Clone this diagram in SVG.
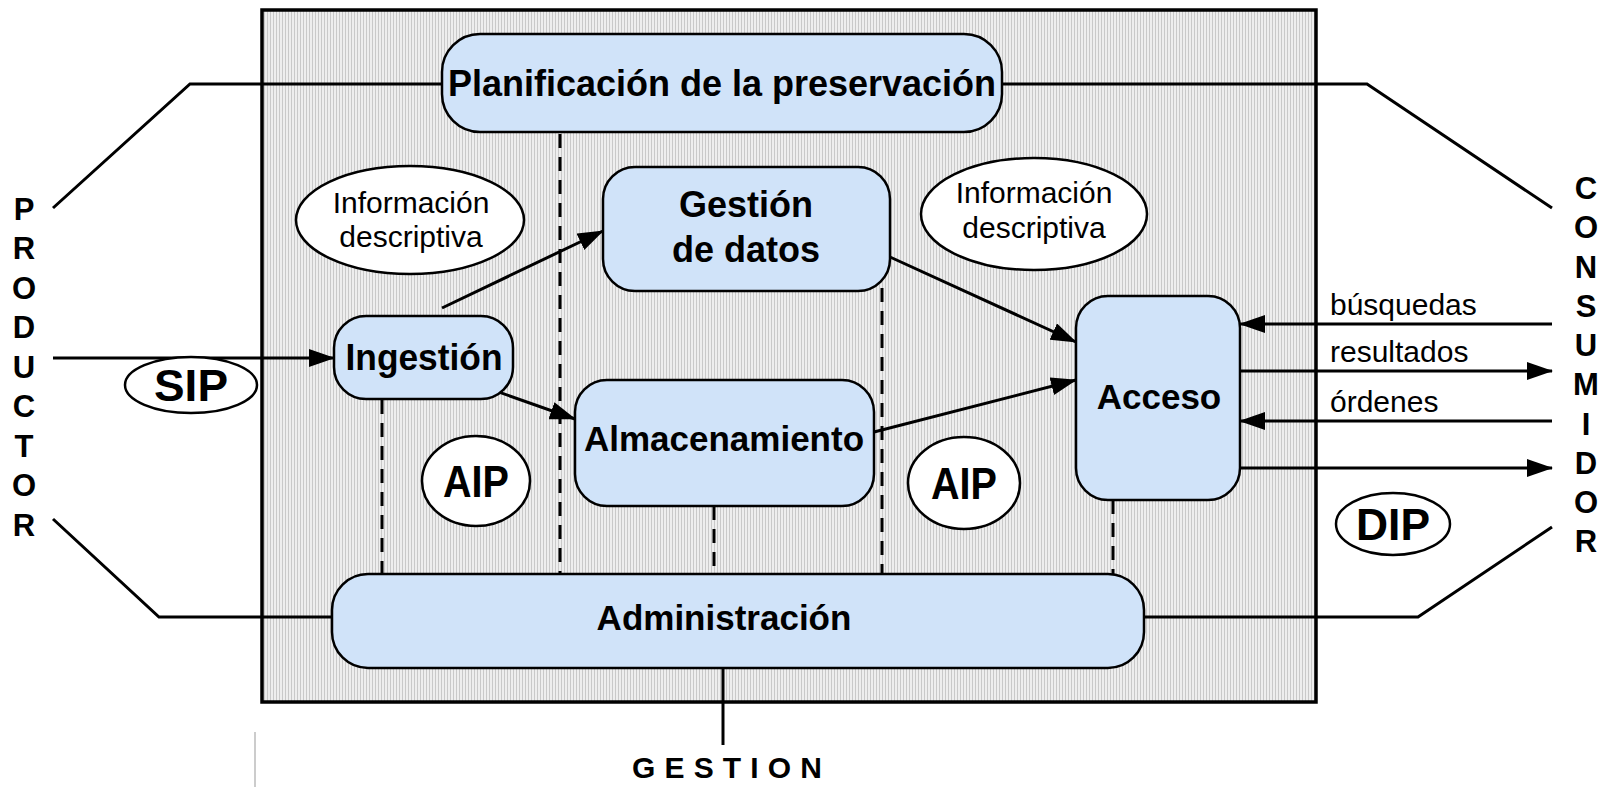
<svg xmlns="http://www.w3.org/2000/svg" width="1612" height="787" viewBox="0 0 1612 787">
<style>
.box{fill:#d0e3f9;stroke:#000;stroke-width:2.5}
.ell{fill:#fff;stroke:#000;stroke-width:2.5}
.t{font-family:"Liberation Sans",Arial,sans-serif;fill:#000;text-anchor:middle}
.b{font-weight:bold}
.ln{fill:none;stroke:#000;stroke-width:3}
.ar{fill:none;stroke:#000;stroke-width:3;marker-end:url(#ah)}
.da{fill:none;stroke:#000;stroke-width:3;stroke-dasharray:14 9}
.lbl{font-family:"Liberation Sans",Arial,sans-serif;font-size:30px;fill:#000}
</style>
<defs>
<pattern id="hatch" width="3" height="10" patternUnits="userSpaceOnUse">
<rect width="3" height="10" fill="#eeeeee"/>
<rect width="1" height="10" fill="#c9c9c9"/>
</pattern>
<marker id="ah" viewBox="0 0 26 18" refX="25" refY="9" markerWidth="26" markerHeight="18" markerUnits="userSpaceOnUse" orient="auto">
<path d="M0,0 L26,9 L0,18 Z" fill="#000"/>
</marker>
</defs>
<rect width="1612" height="787" fill="#fff"/>
<g id="system">
<rect x="262" y="10" width="1054" height="692" fill="url(#hatch)" stroke="#000" stroke-width="3.5"/>
</g>
<line x1="255" y1="732" x2="255" y2="787" stroke="#999" stroke-width="1"/>
<g id="connectors">
<polyline class="ln" points="53,208 190,84 442,84"/>
<polyline class="ln" points="1002,84 1367,84 1552,208"/>
<polyline class="ln" points="53,519 159,617 332,617"/>
<polyline class="ln" points="1144,617 1418,617 1552,527"/>
<line class="ln" x1="723" y1="668" x2="723" y2="745"/>
<line class="da" x1="382" y1="400" x2="382" y2="574"/>
<line class="da" x1="560" y1="134" x2="560" y2="574"/>
<line class="da" x1="714" y1="506" x2="714" y2="574"/>
<line class="da" x1="882" y1="288" x2="882" y2="574"/>
<line class="da" x1="1113" y1="500" x2="1113" y2="574"/>
<line class="ar" x1="53" y1="358" x2="334" y2="358"/>
<line class="ar" x1="442" y1="308" x2="603" y2="231"/>
<line class="ar" x1="442" y1="372" x2="575" y2="419"/>
<line class="ar" x1="890" y1="257" x2="1076" y2="342"/>
<line class="ar" x1="874" y1="432" x2="1076" y2="380"/>
<line class="ar" x1="1552" y1="324" x2="1240" y2="324"/>
<line class="ar" x1="1240" y1="371" x2="1552" y2="371"/>
<line class="ar" x1="1552" y1="421" x2="1240" y2="421"/>
<line class="ar" x1="1240" y1="468" x2="1552" y2="468"/>
<text class="lbl" x="1330" y="315">búsquedas</text>
<text class="lbl" x="1330" y="362">resultados</text>
<text class="lbl" x="1330" y="412">órdenes</text>
</g>
<g id="planificacion">
<rect class="box" x="442" y="34" width="560" height="98" rx="38"/>
<text class="t b" x="722" y="96" font-size="36">Planificación de la preservación</text>
</g>
<g id="gestion-datos">
<rect class="box" x="603" y="167" width="287" height="124" rx="32"/>
<text class="t b" x="746" y="217" font-size="36">Gestión</text>
<text class="t b" x="746" y="262" font-size="36">de datos</text>
</g>
<g id="ingestion">
<rect class="box" x="334" y="316" width="179" height="83" rx="32"/>
<text class="t b" x="424" y="370" font-size="36" textLength="157" lengthAdjust="spacingAndGlyphs">Ingestión</text>
</g>
<g id="almacenamiento">
<rect class="box" x="575" y="380" width="299" height="126" rx="32"/>
<text class="t b" x="724" y="451" font-size="35">Almacenamiento</text>
</g>
<g id="acceso">
<rect class="box" x="1076" y="296" width="164" height="204" rx="32"/>
<text class="t b" x="1159" y="409" font-size="35">Acceso</text>
</g>
<g id="administracion">
<rect class="box" x="332" y="574" width="812" height="94" rx="36"/>
<text class="t b" x="724" y="630" font-size="35">Administración</text>
</g>
<g id="info-left">
<ellipse class="ell" cx="410" cy="220" rx="114" ry="54"/>
<text class="t" x="411" y="213" font-size="30">Información</text>
<text class="t" x="411" y="247" font-size="30">descriptiva</text>
</g>
<g id="info-right">
<ellipse class="ell" cx="1034" cy="214" rx="113" ry="56"/>
<text class="t" x="1034" y="203" font-size="30">Información</text>
<text class="t" x="1034" y="238" font-size="30">descriptiva</text>
</g>
<g id="sip">
<ellipse class="ell" cx="191" cy="385" rx="66" ry="28"/>
<text class="t b" x="191" y="401" font-size="44" textLength="74" lengthAdjust="spacingAndGlyphs">SIP</text>
</g>
<g id="aip-left">
<ellipse class="ell" cx="476" cy="481" rx="54" ry="45"/>
<text class="t b" x="476" y="497" font-size="44" textLength="66" lengthAdjust="spacingAndGlyphs">AIP</text>
</g>
<g id="aip-right">
<ellipse class="ell" cx="964" cy="483" rx="56" ry="46"/>
<text class="t b" x="964" y="499" font-size="44" textLength="66" lengthAdjust="spacingAndGlyphs">AIP</text>
</g>
<g id="dip">
<ellipse class="ell" cx="1393" cy="524" rx="57" ry="31"/>
<text class="t b" x="1393" y="540" font-size="44" textLength="74" lengthAdjust="spacingAndGlyphs">DIP</text>
</g>
<g id="productor" class="t b" font-size="31">
<text x="24" y="220">P</text>
<text x="24" y="259">R</text>
<text x="24" y="299">O</text>
<text x="24" y="338">D</text>
<text x="24" y="378">U</text>
<text x="24" y="417">C</text>
<text x="24" y="457">T</text>
<text x="24" y="496">O</text>
<text x="24" y="536">R</text>
</g>
<g id="consumidor" class="t b" font-size="31">
<text x="1586" y="199">C</text>
<text x="1586" y="238">O</text>
<text x="1586" y="278">N</text>
<text x="1586" y="317">S</text>
<text x="1586" y="356">U</text>
<text x="1586" y="395">M</text>
<text x="1586" y="435">I</text>
<text x="1586" y="474">D</text>
<text x="1586" y="513">O</text>
<text x="1586" y="552">R</text>
</g>
<g id="gestion">
<text class="t b" x="727" y="778" font-size="30" textLength="190" lengthAdjust="spacing">GESTION</text>
</g>
</svg>
